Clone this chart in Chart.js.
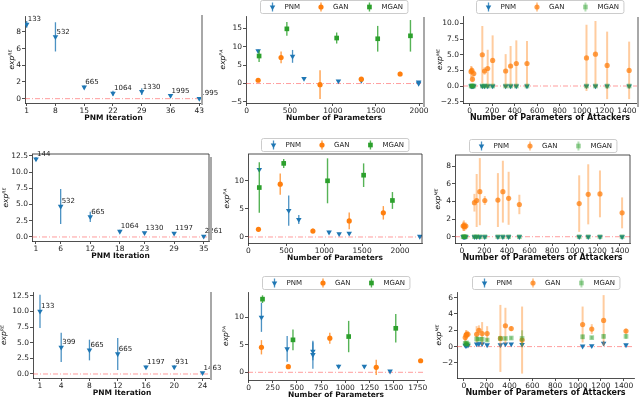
<!DOCTYPE html>
<html>
<head>
<meta charset="utf-8">
<script src="https://cdn.jsdelivr.net/npm/chart.js@4.4.1/dist/chart.umd.min.js"></script>
<style>
  html, body { margin: 0; padding: 0; background: #fff; }
  #fig { position: relative; width: 640px; height: 398px; overflow: hidden; background: #fff; }
  #fig canvas { position: absolute; }
  .edge { position: absolute; width: 2px; background: #a8a8a8; }
</style>
</head>
<body>
<div id="fig"></div>
<script>
// ── Data: row 1 ────────────────────────────────────────────
const R1_ITER       = [1, 8, 15, 22, 29, 36, 43];
const R1_PNM_PARAM  = [133, 532, 665, 1064, 1330, 1995, 1995];
const R1_PNM_Y      = [8.9, 7.4, 1.37, 0.65, 0.84, 0.36, 0.02];
const R1_PNM_ERR    = [0.4, 1.75, 0.2, 0.3, 0.4, 0.15, 0.05];
const R1_GAN_PARAM  = [133, 399, 851, 1330, 1780];
const R1_GAN_Y      = [0.9, 7.1, -0.3, 1.2, 2.6];
const R1_GAN_ERR    = [0.3, 1.6, 3.9, 0.3, 0.6];
const R1_MGAN_PARAM = [144, 466, 1044, 1520, 1900];
const R1_MGAN_Y     = [7.5, 14.9, 12.4, 12.2, 13.0];
const R1_MGAN_ERR   = [1.6, 1.85, 1.5, 3.5, 4.3];

// ── Data: row 2 ────────────────────────────────────────────
const R2_ITER       = [1, 6, 12, 18, 23, 29, 35];
const R2_PNM_PARAM  = [144, 532, 665, 1064, 1330, 1197, 2261];
const R2_PNM_Y      = [12.0, 4.7, 3.1, 0.85, 0.65, 0.55, 0.1];
const R2_PNM_ERR    = [0.3, 2.7, 0.8, 0.25, 0.15, 0.2, 0.08];
const R2_GAN_PARAM  = [133, 420, 851, 1330, 1780];
const R2_GAN_Y      = [1.37, 9.4, 1.07, 2.86, 4.3];
const R2_GAN_ERR    = [0.35, 1.9, 0.45, 1.5, 1.2];
const R2_MGAN_PARAM = [144, 466, 1044, 1520, 1900];
const R2_MGAN_Y     = [8.8, 13.1, 10.0, 11.0, 6.5];
const R2_MGAN_ERR   = [4.5, 0.8, 4.0, 2.1, 1.5];

// ── Data: row 3 ────────────────────────────────────────────
const R3_ITER       = [1, 4, 8, 12, 16, 20, 24];
const R3_PNM_PARAM  = [133, 399, 665, 665, 1197, 931, 1463];
const R3_PNM_Y      = [10.0, 4.25, 3.83, 3.2, 1.1, 1.1, 0.2];
const R3_PNM_ERR    = [2.65, 2.35, 1.65, 2.55, 0.25, 0.3, 0.1];
const R3_GAN_PARAM  = [133, 411, 840, 1320, 1779];
const R3_GAN_Y      = [4.55, 1.03, 6.2, 0.9, 2.1];
const R3_GAN_ERR    = [1.3, 0.2, 1.0, 1.4, 0.3];
const R3_MGAN_PARAM = [144, 459, 1035, 1522];
const R3_MGAN_Y     = [13.3, 5.9, 6.5, 8.0];
const R3_MGAN_ERR   = [0.7, 1.9, 2.85, 2.6];

// ── Data: attacker panels (right column) ───────────────────
const ATK_PARAM = [12, 19, 24, 36, 112, 132, 160, 204, 320, 364, 415, 510, 1040, 1120, 1224, 1420];

const R1_ATK_GAN_Y   = [2.3, 2.5, 1.1, 2.0, 5.0, 2.4, 2.8, 4.1, 2.4, 3.2, 3.6, 3.6, 4.5, 5.1, 3.3, 2.5];
const R1_ATK_GAN_ERR = [0.9, 0.6, 0.5, 0.5, 4.6, 0.6, 3.0, 4.0, 2.7, 3.2, 3.7, 3.6, 5.3, 5.3, 5.4, 4.6];
const R1_ATK_PNM_Y   = [0, 0, 0, 0, 0, 0, 0, 0, 0, 0, 0, 0, 0, 0, 0, 0];
const R1_ATK_PNM_ERR = [0.08, 0.08, 0.08, 0.08, 0.08, 0.08, 0.08, 0.08, 0.08, 0.08, 0.08, 0.08, 0.08, 0.08, 0.08, 0.08];
const R1_ATK_MGAN_Y   = [0, 0, 0, 0, 0, 0, 0, 0, 0, 0, 0, 0, 0, 0, 0, 0];
const R1_ATK_MGAN_ERR = [0.08, 0.08, 0.08, 0.08, 0.08, 0.08, 0.08, 0.08, 0.08, 0.08, 0.08, 0.08, 0.08, 0.08, 0.08, 0.08];

const R2_ATK_GAN_Y   = [1.2, 1.25, 1.15, 1.2, 3.85, 4.1, 5.1, 4.1, 4.15, 5.1, 4.35, 3.65, 3.75, 4.8, 4.85, 2.7];
const R2_ATK_GAN_ERR = [0.5, 0.6, 0.5, 0.4, 1.0, 3.0, 3.8, 0.5, 3.05, 3.5, 3.0, 1.1, 3.2, 3.4, 2.65, 1.75];
const R2_ATK_PNM_Y   = [0, 0, 0, 0, 0, 0, 0, 0, 0, 0, 0, 0, 0, 0, 0, 0];
const R2_ATK_PNM_ERR = [0.06, 0.06, 0.06, 0.06, 0.06, 0.06, 0.06, 0.06, 0.06, 0.06, 0.06, 0.06, 0.06, 0.06, 0.06, 0.06];
const R2_ATK_MGAN_Y   = [0, 0, 0, 0, 0, 0, 0, 0, 0, 0, 0, 0, 0, 0, 0, 0];
const R2_ATK_MGAN_ERR = [0.06, 0.06, 0.06, 0.06, 0.06, 0.06, 0.06, 0.06, 0.06, 0.06, 0.06, 0.06, 0.06, 0.06, 0.06, 0.06];

const R3_ATK_GAN_Y   = [1.1, 1.4, 1.5, 1.5, 1.5, 2.0, 1.6, 1.6, 1.0, 2.55, 2.2, 0.8, 2.7, 2.15, 3.2, 1.9];
const R3_ATK_GAN_ERR = [0.5, 0.6, 0.5, 0.4, 1.0, 0.6, 1.4, 0.9, 4.1, 2.2, 0.3, 4.1, 2.2, 0.6, 3.1, 0.3];
const R3_ATK_PNM_Y   = [0.15, 0.1, 0.2, 0.15, 0.3, 0.35, 0.35, 0.2, 0.2, 0.3, 0.3, 0.25, 0.05, 0.1, 0.4, 0.2];
const R3_ATK_PNM_ERR = [0.1, 0.1, 0.1, 0.1, 0.1, 0.1, 0.1, 0.1, 0.1, 0.1, 0.1, 0.1, 0.1, 0.1, 0.3, 0.1];
const R3_ATK_MGAN_Y   = [0.4, 0.3, 0.45, 0.3, 0.93, 0.9, 0.9, 0.8, 1.0, 1.0, 1.05, 1.0, 1.2, 1.1, 1.25, 1.25];
const R3_ATK_MGAN_ERR = [0.2, 0.2, 0.2, 0.2, 0.3, 0.2, 0.3, 0.2, 0.2, 0.2, 0.2, 1.0, 0.3, 0.2, 0.3, 0.3];

// ── Tick labels ────────────────────────────────────────────
const PARAM_TICKS_2000 = [0, 500, 1000, 1500, 2000];
const PARAM_TICKS_1750 = [0, 250, 500, 750, 1000, 1250, 1500, 1750];
const ATK_TICKS        = [0, 200, 400, 600, 800, 1000, 1200, 1400];
const R1C1_YTICKS = [0, 2, 4, 6, 8];
const R1C2_YTICKS = [-5, 0, 5, 10, 15];
const R1C3_YTICKS = [-2.5, 0, 2.5, 5, 7.5, 10];
const R2C1_YTICKS = [0, 2.5, 5, 7.5, 10, 12.5];
const R2C2_YTICKS = [0, 5, 10];
const R2C3_YTICKS = [0, 2, 4, 6, 8];
const R3C1_YTICKS = [0, 2.5, 5, 7.5, 10, 12.5];
const R3C2_YTICKS = [0, 5, 10];
const R3C3_YTICKS = [-2, 0, 2, 4, 6];

// ── Style ──────────────────────────────────────────────────
const FONT   = "'DejaVu Sans', sans-serif";
const BLUE   = '#1f77b4';
const ORANGE = '#ff7f0e';
const GREEN  = '#2ca02c';
const INK    = '#222';

const rgba = (hex, a) => {
    const n = parseInt(hex.slice(1), 16);
    return `rgba(${n >> 16},${(n >> 8) & 255},${n & 255},${a})`;
};
const pts     = (xs, ys) => xs.map((x, i) => ({ x, y: ys[i] }));
const fmtInt  = v => String(v).replace('-', '\u2212');
const fmtOne  = v => v.toFixed(1).replace('-', '\u2212');

// ── Series factories ───────────────────────────────────────
function pnmSet(xs, ys, es, labels) {
    return {
        label: 'PNM', data: pts(xs, ys), errs: es, textLabels: labels || null,
        pointStyle: 'triangle', pointRotation: 180, pointRadius: 3.2, pointHoverRadius: 3.2,
        pointBackgroundColor: BLUE, pointBorderWidth: 0,
        errColor: rgba(BLUE, 0.8), errWidth: 1.3, order: 3,
    };
}
function ganSet(xs, ys, es, light) {
    return {
        label: 'GAN', data: pts(xs, ys), errs: es,
        pointStyle: 'circle', pointRadius: 2.6, pointHoverRadius: 2.6,
        pointBackgroundColor: light ? rgba(ORANGE, 0.75) : ORANGE, pointBorderWidth: 0,
        errColor: rgba(ORANGE, light ? 0.4 : 0.75), errWidth: light ? 2 : 1.4, order: 2,
    };
}
function mganSet(xs, ys, es, light) {
    return {
        label: 'MGAN', data: pts(xs, ys), errs: es,
        pointStyle: 'rect', pointRadius: 3.3, pointHoverRadius: 3.3,
        pointBackgroundColor: light ? rgba(GREEN, 0.45) : GREEN, pointBorderWidth: 0,
        errColor: rgba(GREEN, light ? 0.35 : 0.8), errWidth: light ? 2 : 1.4, order: 1,
    };
}

// ── Plugins ────────────────────────────────────────────────
const errorBars = {
    id: 'errorBars',
    beforeDatasetDraw(chart, args) {
        const ds = chart.data.datasets[args.index];
        if (!ds.errs) return;
        const { ctx, chartArea: a, scales: { x, y } } = chart;
        ctx.save();
        ctx.beginPath();
        ctx.rect(a.left, a.top, a.right - a.left, a.bottom - a.top);
        ctx.clip();
        ctx.strokeStyle = ds.errColor;
        ctx.lineWidth   = ds.errWidth;
        ds.data.forEach((p, i) => {
            const px = x.getPixelForValue(p.x);
            ctx.beginPath();
            ctx.moveTo(px, y.getPixelForValue(p.y - ds.errs[i]));
            ctx.lineTo(px, y.getPixelForValue(p.y + ds.errs[i]));
            ctx.stroke();
        });
        ctx.restore();
    },
};

const zeroLine = {
    id: 'zeroLine',
    beforeDatasetsDraw(chart) {
        const { ctx, chartArea: a, scales: { y } } = chart;
        const py = y.getPixelForValue(0);
        ctx.save();
        ctx.strokeStyle = 'rgba(255,60,60,0.5)';
        ctx.lineWidth = 1;
        ctx.setLineDash([5, 2, 1, 2]);
        ctx.beginPath();
        ctx.moveTo(a.left, py);
        ctx.lineTo(a.right, py);
        ctx.stroke();
        ctx.restore();
    },
};

const pointText = {
    id: 'pointText',
    afterDatasetsDraw(chart) {
        const { ctx, scales: { x, y } } = chart;
        ctx.save();
        ctx.font = `7px ${FONT}`;
        ctx.fillStyle = INK;
        chart.data.datasets.forEach(ds => {
            if (!ds.textLabels) return;
            ds.data.forEach((p, i) =>
                ctx.fillText(ds.textLabels[i], x.getPixelForValue(p.x) + 1, y.getPixelForValue(p.y) - 3));
        });
        ctx.restore();
    },
};

const frame = {
    id: 'frame',
    afterDraw(chart, args, opts) {
        if (!opts.box) return;
        const { ctx, chartArea: a } = chart;
        ctx.save();
        ctx.strokeStyle = INK;
        ctx.lineWidth = 0.8;
        ctx.beginPath();
        ctx.moveTo(a.left, a.top);
        ctx.lineTo(a.right, a.top);
        ctx.lineTo(a.right, a.bottom);
        ctx.stroke();
        ctx.restore();
    },
};

function drawMarker(ctx, style, cx, cy, r) {
    ctx.beginPath();
    if (style === 'triangle') {
        ctx.moveTo(cx - r * 0.866, cy - r * 0.5);
        ctx.lineTo(cx + r * 0.866, cy - r * 0.5);
        ctx.lineTo(cx, cy + r);
    } else if (style === 'rect') {
        const s = r * Math.SQRT1_2;
        ctx.rect(cx - s, cy - s, 2 * s, 2 * s);
    } else {
        ctx.arc(cx, cy, r, 0, Math.PI * 2);
    }
    ctx.closePath();
    ctx.fill();
}

const legendBox = {
    id: 'legendBox',
    afterDraw(chart, args, opts) {
        if (!opts.show) return;
        const { ctx, chartArea: a } = chart;
        const items = chart.data.datasets;
        const HW = 14, GAP = 5, COL = 14, PAD = 5, H = 13;
        ctx.save();
        ctx.font = `7px ${FONT}`;
        const widths = items.map(d => ctx.measureText(d.label).width);
        const total  = PAD * 2 + widths.reduce((s, w) => s + HW + GAP + w, 0) + COL * (items.length - 1);
        const x0 = Math.round((a.left + a.right) / 2 - total / 2) + 0.5;
        const y0 = Math.round(a.top - 16) + 0.5;

        ctx.fillStyle = 'rgba(255,255,255,0.85)';
        ctx.strokeStyle = '#cccccc';
        ctx.lineWidth = 1;
        ctx.beginPath();
        ctx.roundRect(x0, y0, total, H, 2);
        ctx.fill();
        ctx.stroke();

        let x = x0 + PAD;
        const cy = y0 + H / 2;
        items.forEach((d, i) => {
            const cx = x + HW / 2;
            ctx.strokeStyle = d.errColor;
            ctx.lineWidth = d.errWidth;
            ctx.beginPath();
            ctx.moveTo(cx, cy - 4.5);
            ctx.lineTo(cx, cy + 4.5);
            ctx.stroke();
            ctx.fillStyle = d.pointBackgroundColor;
            drawMarker(ctx, d.pointStyle, cx, cy, d.pointRadius);
            ctx.fillStyle = INK;
            ctx.textBaseline = 'middle';
            ctx.fillText(d.label, x + HW + GAP, cy + 0.5);
            x += HW + GAP + widths[i] + COL;
        });
        ctx.restore();
    },
};

Chart.register(errorBars, zeroLine, pointText, frame, legendBox);

// ── Panels ─────────────────────────────────────────────────
const SUP_RE = 'exp\u1D3F\u1D31';
const SUP_PA = 'exp\u1D3E\u1D2C';
const SUP_ME = 'exp\u1D39\u1D31';

const PANELS = [
    // row 1
    { box: [25, 16, 202, 103], yw: 17, xr: [0.59, 43.66], yr: [-0.52, 9.9], tsize: 7.5,
      xt: R1_ITER, yt: R1C1_YTICKS, yfmt: fmtInt, xlabel: 'PNM Iteration', ylabel: SUP_RE,
      sets: () => [pnmSet(R1_ITER, R1_PNM_Y, R1_PNM_ERR, R1_PNM_PARAM.map(String))] },
    { box: [246, 16, 422, 103], yw: 27, xr: [-8, 2034], yr: [-5.3, 18.4], legend: true, tsize: 7.5,
      xt: PARAM_TICKS_2000, yt: R1C2_YTICKS, yfmt: fmtInt, xlabel: 'Number of Parameters', ylabel: SUP_PA,
      sets: () => [pnmSet(R1_PNM_PARAM, R1_PNM_Y, R1_PNM_ERR), ganSet(R1_GAN_PARAM, R1_GAN_Y, R1_GAN_ERR),
                   mganSet(R1_MGAN_PARAM, R1_MGAN_Y, R1_MGAN_ERR)] },
    { box: [463, 16, 637, 103], yw: 27, xr: [-60, 1490], yr: [-2.72, 11.2], legend: true, tsize: 8,
      xt: ATK_TICKS, yt: R1C3_YTICKS, yfmt: fmtOne, xlabel: 'Number of Parameters of Attackers', ylabel: SUP_ME,
      sets: () => [pnmSet(ATK_PARAM, R1_ATK_PNM_Y, R1_ATK_PNM_ERR), ganSet(ATK_PARAM, R1_ATK_GAN_Y, R1_ATK_GAN_ERR, true),
                   mganSet(ATK_PARAM, R1_ATK_MGAN_Y, R1_ATK_MGAN_ERR, true)] },
    // row 2
    { box: [32, 154, 209, 241], yw: 30, xr: [0.19, 36.07], yr: [-0.62, 12.78], box4: true, tsize: 7.5,
      xt: R2_ITER, yt: R2C1_YTICKS, yfmt: fmtOne, xlabel: 'PNM Iteration', ylabel: SUP_RE,
      sets: () => [pnmSet(R2_ITER, R2_PNM_Y, R2_PNM_ERR, R2_PNM_PARAM.map(String))] },
    { box: [248, 154, 422, 243], yw: 25, xr: [-5, 2290], yr: [-1.07, 14.77], legend: true, box4: true, tsize: 7.5,
      xt: PARAM_TICKS_2000, yt: R2C2_YTICKS, yfmt: fmtInt, xlabel: 'Number of Parameters', ylabel: SUP_PA,
      sets: () => [pnmSet(R2_PNM_PARAM, R2_PNM_Y, R2_PNM_ERR), ganSet(R2_GAN_PARAM, R2_GAN_Y, R2_GAN_ERR),
                   mganSet(R2_MGAN_PARAM, R2_MGAN_Y, R2_MGAN_ERR)] },
    { box: [455, 155, 630, 243], yw: 21, xr: [-60, 1490], yr: [-0.71, 9.25], legend: true, box4: true, tsize: 8,
      xt: ATK_TICKS, yt: R2C3_YTICKS, yfmt: fmtInt, xlabel: 'Number of Parameters of Attackers', ylabel: SUP_ME,
      sets: () => [pnmSet(ATK_PARAM, R2_ATK_PNM_Y, R2_ATK_PNM_ERR), ganSet(ATK_PARAM, R2_ATK_GAN_Y, R2_ATK_GAN_ERR, true),
                   mganSet(ATK_PARAM, R2_ATK_MGAN_Y, R2_ATK_MGAN_ERR, true)] },
    // row 3
    { box: [33, 292, 211, 378], yw: 33, xr: [0.01, 25.2], yr: [-0.64, 13.1], tsize: 7.5,
      xt: R3_ITER, yt: R3C1_YTICKS, yfmt: fmtOne, xlabel: 'PNM Iteration', ylabel: SUP_RE,
      sets: () => [pnmSet(R3_ITER, R3_PNM_Y, R3_PNM_ERR, R3_PNM_PARAM.map(String))] },
    { box: [248, 292, 424, 380], yw: 26, xr: [-6, 1814], yr: [-1.4, 14.6], legend: true, tsize: 7.5,
      xt: PARAM_TICKS_1750, yt: R3C2_YTICKS, yfmt: fmtInt, xlabel: 'Number of Parameters', ylabel: SUP_PA,
      sets: () => [pnmSet(R3_PNM_PARAM, R3_PNM_Y, R3_PNM_ERR), ganSet(R3_GAN_PARAM, R3_GAN_Y, R3_GAN_ERR),
                   mganSet(R3_MGAN_PARAM, R3_MGAN_Y, R3_MGAN_ERR)] },
    { box: [457, 292, 634, 378], yw: 22, xr: [-60, 1490], yr: [-3.84, 6.68], legend: true, tsize: 8,
      xt: ATK_TICKS, yt: R3C3_YTICKS, yfmt: fmtInt, xlabel: 'Number of Parameters of Attackers', ylabel: SUP_ME,
      sets: () => [pnmSet(ATK_PARAM, R3_ATK_PNM_Y, R3_ATK_PNM_ERR), ganSet(ATK_PARAM, R3_ATK_GAN_Y, R3_ATK_GAN_ERR, true),
                   mganSet(ATK_PARAM, R3_ATK_MGAN_Y, R3_ATK_MGAN_ERR, true)] },
];

// light-grey borders left over from the stitched sub-images
const EDGES = [[201, 15, 105], [423, 17, 107], [637, 17, 107], [210, 157, 240], [210, 292, 380]];

const FIG = document.getElementById('fig');

function axisCommon() {
    return {
        type: 'linear',
        grid:   { drawOnChartArea: false, drawTicks: true, tickLength: 3, color: INK, lineWidth: 0.8 },
        border: { display: true, color: INK, width: 0.8 },
    };
}

function buildChart(p) {
    const TOP = 18, RP = 22, XH = 21;
    const [l, t, r, b] = p.box;
    const cv = document.createElement('canvas');
    cv.width  = r - l + p.yw + RP;
    cv.height = b - t + TOP + XH;
    cv.style.left = (l - p.yw) + 'px';
    cv.style.top  = (t - TOP) + 'px';
    FIG.appendChild(cv);

    new Chart(cv, {
        type: 'scatter',
        data: { datasets: p.sets() },
        options: {
            responsive: false,
            animation: false,
            devicePixelRatio: 1,
            events: [],
            layout: { padding: { left: 0, top: TOP, right: RP, bottom: 0 } },
            plugins: {
                legend:    { display: false },
                tooltip:   { enabled: false },
                frame:     { box: !!p.box4 },
                legendBox: { show: !!p.legend },
            },
            scales: {
                x: {
                    ...axisCommon(),
                    position: 'bottom',
                    min: p.xr[0], max: p.xr[1],
                    afterBuildTicks: s => { s.ticks = p.xt.map(v => ({ value: v })); },
                    afterFit: s => { s.height = XH; },
                    ticks: { font: { family: FONT, size: 7.5 }, color: INK, padding: 1,
                             maxRotation: 0, minRotation: 0, autoSkip: false, callback: v => fmtInt(v) },
                    title: { display: true, text: p.xlabel, color: '#111', padding: { top: 0, bottom: 1 },
                             font: { family: FONT, size: p.tsize, weight: 'bold' } },
                },
                y: {
                    ...axisCommon(),
                    position: 'left',
                    min: p.yr[0], max: p.yr[1],
                    afterBuildTicks: s => { s.ticks = p.yt.map(v => ({ value: v })); },
                    afterFit: s => { s.width = p.yw; },
                    ticks: { font: { family: FONT, size: 7.5 }, color: INK, padding: 1,
                             autoSkip: false, callback: v => p.yfmt(v) },
                    title: { display: true, text: p.ylabel, color: '#111', padding: 0,
                             font: { family: FONT, size: 7.5, style: 'italic' } },
                },
            },
        },
    });
}

PANELS.forEach(buildChart);

EDGES.forEach(([x, y0, y1]) => {
    const d = document.createElement('div');
    d.className = 'edge';
    d.style.left = x + 'px';
    d.style.top = y0 + 'px';
    d.style.height = (y1 - y0) + 'px';
    FIG.appendChild(d);
});
</script>
</body>
</html>
